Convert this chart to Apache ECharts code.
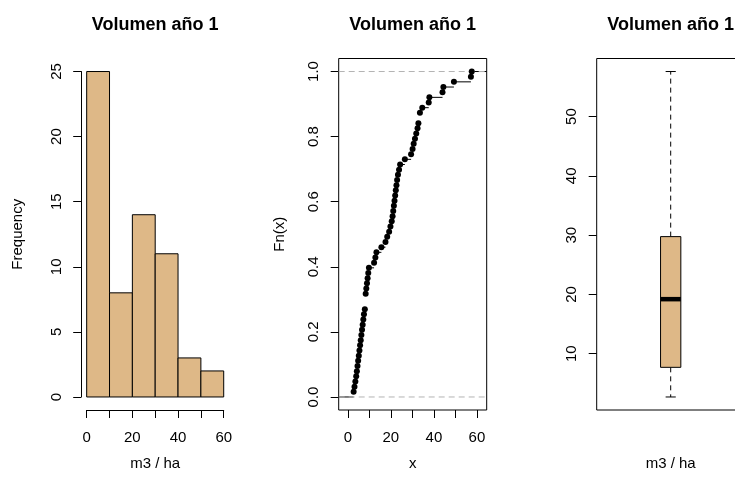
<!DOCTYPE html>
<html><head><meta charset="utf-8">
<script src="https://cdn.jsdelivr.net/npm/echarts@6/dist/echarts.min.js"></script>
<style>html,body{margin:0;padding:0;background:#fff}#c{width:735px;height:481px}</style>
</head><body><div id="c"></div>
<script>
// ---- data ----
const titleText = 'Volumen año 1';
const histBreaks = [0, 10, 20, 30, 40, 50, 60];
const histCounts = [25, 8, 14, 11, 3, 2];
const volume = [2.7, 3.1, 3.5, 3.9, 4.2, 4.5, 4.8, 5.1, 5.4, 5.7, 6.0, 6.3, 6.6, 6.9, 7.2, 7.5, 7.9,
  8.3, 8.3, 8.3, 8.6, 8.9, 9.2, 9.5, 9.8,
  12.2, 12.8, 13.3, 15.6, 17.5, 18.3, 19.2, 19.8,
  20.4, 20.8, 21.1, 21.4, 21.7, 22.0, 22.3, 22.6, 22.9, 23.3, 23.8, 24.3, 26.5, 29.4,
  30.1, 30.6, 31.2, 31.8, 32.4, 32.8, 33.5, 33.5, 34.6, 37.6, 37.9,
  44.0, 44.4, 49.3, 57.2, 57.6];
const boxStats = [2.7, 7.7, 19.2, 29.75, 57.6]; // min, Q1, median, Q3, max
const histXTicks = [0, 10, 20, 30, 40, 50, 60];
const histXLabels = [0, 20, 40, 60];
const histYTicks = [0, 5, 10, 15, 20, 25];
const ecdfXTicks = [0, 10, 20, 30, 40, 50, 60];
const ecdfXLabels = [0, 20, 40, 60];
const ecdfYTicks = [0, 0.2, 0.4, 0.6, 0.8, 1.0];
const boxYTicks = [10, 20, 30, 40, 50];

// ---- layout (pixels) ----
const FONT = 'Liberation Sans, Arial, Helvetica, sans-serif';
const plotTop = 58.5, plotBottom = 410, plotW = 148;
const panelLeft = [81.2, 338.7, 596.7];
const plotH = plotBottom - plotTop;
const FS = 15, TFS = 18, TICKLEN = 8;

// R-style 4% expansion
function expand(lo, hi) { const d = (hi - lo) * 0.04; return [lo - d, hi + d]; }

// histogram: usr and inner grid
const hx = expand(histBreaks[0], histBreaks[histBreaks.length - 1]);
const hy = expand(0, Math.max(...histCounts));
const hxScale = plotW / (hx[1] - hx[0]);
const hyScale = plotH / (hy[1] - hy[0]);
const hMaxY = histYTicks[histYTicks.length - 1];
const hGrid = {
  left: panelLeft[0] + (histBreaks[0] - hx[0]) * hxScale,
  width: (histBreaks[histBreaks.length - 1] - histBreaks[0]) * hxScale,
  top: plotTop + (hy[1] - hMaxY) * hyScale,
  height: hMaxY * hyScale
};
const hXOff = (0 - hy[0]) * hyScale;
const hYOff = (histBreaks[0] - hx[0]) * hxScale;

// ECDF
const sorted = volume.slice().sort((a, b) => a - b);
const n = sorted.length;
const uniq = [], Fv = [];
sorted.forEach((v, i) => {
  if (i === n - 1 || sorted[i + 1] !== v) { uniq.push(v); Fv.push((i + 1) / n); }
});
const diffs = uniq.slice(1).map((v, i) => v - uniq[i]).sort((a, b) => a - b);
const medDiff = diffs.length ? diffs[Math.floor((diffs.length - 1) / 2)] : 0;
const rx = [uniq[0], uniq[uniq.length - 1]];
const dr = Math.max(0.08 * (rx[1] - rx[0]), medDiff);
const ex = expand(rx[0] - dr, rx[1] + dr);
const ey = expand(0, 1);
const ecdfPoints = uniq.map((u, i) => [u, Fv[i]]);
const ecdfSegs = [[ex[0], uniq[0], 0]];
uniq.forEach((u, i) => { ecdfSegs.push([u, i < uniq.length - 1 ? uniq[i + 1] : ex[1], Fv[i]]); });

// boxplot
const by = expand(boxStats[0], boxStats[4]);

const lineBlack = { color: '#000', width: 1 };
const lblCommon = { fontSize: FS, color: '#000', fontFamily: FONT };
const nameStyle = { fontSize: FS, color: '#000', fontFamily: FONT };

const chart = echarts.init(document.getElementById('c'), null, { renderer: 'canvas' });
const option = {
  animation: false,
  backgroundColor: '#fff',
  title: [0, 1, 2].map(i => ({
    text: titleText, left: panelLeft[i] + plotW / 2, top: 16, textAlign: 'center', padding: 0,
    textStyle: { fontSize: TFS, fontWeight: 'bold', color: '#000', fontFamily: FONT }
  })),
  grid: [
    { left: hGrid.left, top: hGrid.top, width: hGrid.width, height: hGrid.height, show: false, outerBoundsMode: 'none', containLabel: false },
    { left: panelLeft[1], top: plotTop, width: plotW, height: plotH, show: true, borderColor: '#000', borderWidth: 1, backgroundColor: 'transparent', outerBoundsMode: 'none', containLabel: false },
    { left: panelLeft[2], top: plotTop, width: plotW, height: plotH, show: true, borderColor: '#000', borderWidth: 1, backgroundColor: 'transparent', outerBoundsMode: 'none', containLabel: false }
  ],
  xAxis: [
    {
      gridIndex: 0, type: 'value', min: 0, max: 60, interval: 10, offset: hXOff, position: 'bottom',
      axisLine: { show: true, onZero: false, lineStyle: lineBlack },
      axisTick: { show: true, length: TICKLEN, lineStyle: lineBlack },
      splitLine: { show: false },
      axisLabel: Object.assign({}, lblCommon, { margin: 20, formatter: v => histXLabels.includes(v) ? String(v) : '' }),
      name: 'm3 / ha', nameLocation: 'middle', nameGap: 46, nameTextStyle: nameStyle
    },
    {
      gridIndex: 1, type: 'value', min: ex[0], max: ex[1], position: 'bottom',
      axisLine: { show: false, onZero: false },
      axisTick: { show: true, length: TICKLEN, customValues: ecdfXTicks, lineStyle: lineBlack },
      splitLine: { show: false },
      axisLabel: Object.assign({}, lblCommon, { margin: 20, customValues: ecdfXLabels, formatter: v => String(v) }),
      name: 'x', nameLocation: 'middle', nameGap: 46, nameTextStyle: nameStyle
    },
    {
      gridIndex: 2, type: 'value', min: 0.5, max: 1.5, position: 'bottom',
      axisLine: { show: false, onZero: false }, axisTick: { show: false }, axisLabel: { show: false },
      splitLine: { show: false },
      name: 'm3 / ha', nameLocation: 'middle', nameGap: 46, nameTextStyle: nameStyle
    }
  ],
  yAxis: [
    {
      gridIndex: 0, type: 'value', min: 0, max: hMaxY, interval: 5, offset: hYOff, position: 'left',
      axisLine: { show: true, onZero: false, lineStyle: lineBlack },
      axisTick: { show: true, length: TICKLEN, lineStyle: lineBlack },
      splitLine: { show: false },
      axisLabel: Object.assign({}, lblCommon, { rotate: 90, margin: 17 }),
      name: 'Frequency', nameLocation: 'middle', nameGap: 56, nameRotate: 90, nameTextStyle: nameStyle
    },
    {
      gridIndex: 1, type: 'value', min: ey[0], max: ey[1], position: 'left',
      axisLine: { show: false, onZero: false },
      axisTick: { show: true, length: TICKLEN, customValues: ecdfYTicks, lineStyle: lineBlack },
      splitLine: { show: false },
      axisLabel: Object.assign({}, lblCommon, { rotate: 90, margin: 17, customValues: ecdfYTicks, formatter: v => v.toFixed(1) }),
      name: 'Fn(x)', nameLocation: 'middle', nameGap: 51, nameRotate: 90, nameTextStyle: nameStyle
    },
    {
      gridIndex: 2, type: 'value', min: by[0], max: by[1], position: 'left',
      axisLine: { show: false, onZero: false },
      axisTick: { show: true, length: TICKLEN, customValues: boxYTicks, lineStyle: lineBlack },
      splitLine: { show: false },
      axisLabel: Object.assign({}, lblCommon, { rotate: 90, margin: 17, customValues: boxYTicks })
    }
  ],
  series: [
    {
      type: 'custom', xAxisIndex: 0, yAxisIndex: 0,
      data: histCounts.map((c, i) => [histBreaks[i], histBreaks[i + 1], c]),
      encode: { x: [0, 1], y: 2 },
      renderItem: (params, api) => {
        const p0 = api.coord([api.value(0), api.value(2)]);
        const p1 = api.coord([api.value(1), 0]);
        return { type: 'rect', shape: { x: p0[0], y: p0[1], width: p1[0] - p0[0], height: p1[1] - p0[1] },
          style: { fill: '#DEB887', stroke: '#000', lineWidth: 1 } };
      }
    },
    {
      type: 'custom', xAxisIndex: 1, yAxisIndex: 1, clip: true,
      data: ecdfSegs, encode: { x: [0, 1], y: 2 },
      renderItem: (params, api) => {
        const a = api.coord([api.value(0), api.value(2)]);
        const b = api.coord([api.value(1), api.value(2)]);
        return { type: 'line', shape: { x1: a[0], y1: a[1], x2: b[0], y2: b[1] }, style: { stroke: '#000', lineWidth: 1 } };
      }
    },
    {
      type: 'custom', xAxisIndex: 1, yAxisIndex: 1, clip: true, z: 3,
      data: [[ex[0], ex[1], 0], [ex[0], ex[1], 1]], encode: { x: [0, 1], y: 2 },
      renderItem: (params, api) => {
        const a = api.coord([api.value(0), api.value(2)]);
        const b = api.coord([api.value(1), api.value(2)]);
        return { type: 'line', shape: { x1: a[0], y1: a[1], x2: b[0], y2: b[1] }, style: { stroke: '#B3B3B3', lineWidth: 1, lineDash: [6, 4] } };
      }
    },
    {
      type: 'scatter', xAxisIndex: 1, yAxisIndex: 1, z: 4,
      data: ecdfPoints, symbol: 'circle', symbolSize: 6,
      itemStyle: { color: '#000', borderWidth: 0, opacity: 1 },
      emphasis: { disabled: true }
    },
    {
      type: 'custom', xAxisIndex: 2, yAxisIndex: 2,
      data: [[1].concat(boxStats)], encode: { x: 0, y: [1, 2, 3, 4, 5] },
      renderItem: (params, api) => {
        const cx = api.coord([api.value(0), api.value(3)])[0];
        const w = api.size([0.137, 0])[0];
        const y = i => api.coord([api.value(0), api.value(i)])[1];
        const yMin = y(1), yQ1 = y(2), yMed = y(3), yQ3 = y(4), yMax = y(5);
        const blk = { stroke: '#000', lineWidth: 1 };
        const dash = { stroke: '#000', lineWidth: 1, lineDash: [5, 4] };
        return { type: 'group', children: [
          { type: 'line', shape: { x1: cx, y1: yQ3, x2: cx, y2: yMax }, style: dash },
          { type: 'line', shape: { x1: cx, y1: yQ1, x2: cx, y2: yMin }, style: dash },
          { type: 'line', shape: { x1: cx - w / 4, y1: yMax, x2: cx + w / 4, y2: yMax }, style: blk },
          { type: 'line', shape: { x1: cx - w / 4, y1: yMin, x2: cx + w / 4, y2: yMin }, style: blk },
          { type: 'rect', shape: { x: cx - w / 2, y: yQ3, width: w, height: yQ1 - yQ3 }, style: { fill: '#DEB887', stroke: '#000', lineWidth: 1 } },
          { type: 'line', shape: { x1: cx - w / 2, y1: yMed, x2: cx + w / 2, y2: yMed }, style: { stroke: '#000', lineWidth: 4.5, lineCap: 'butt' } }
        ] };
      }
    }
  ]
};
chart.setOption(option);
</script></body></html>
